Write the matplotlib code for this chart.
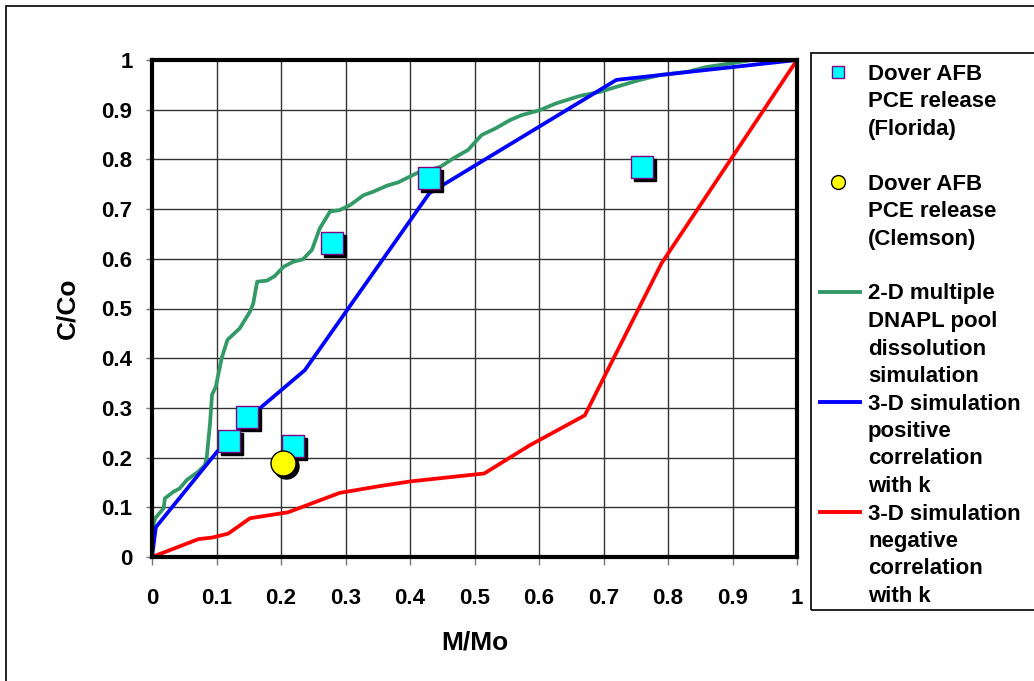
import matplotlib
matplotlib.use('Agg')
import matplotlib.pyplot as plt
import matplotlib.transforms as mtransforms
from matplotlib.lines import Line2D
from matplotlib.patches import Rectangle

plt.rcParams['font.family'] = ['Liberation Sans', 'DejaVu Sans']
plt.rcParams['font.weight'] = 'bold'

# field data
florida_x = [0.119, 0.148, 0.218, 0.279, 0.429, 0.759]
florida_y = [0.233, 0.282, 0.224, 0.631, 0.763, 0.785]
clemson_x = [0.203]
clemson_y = [0.189]

# 2-D multiple pool dissolution simulation
green_x = [0, 0.005, 0.018, 0.02, 0.033, 0.043, 0.054, 0.072, 0.082, 0.085, 0.09, 0.093, 0.099,
           0.108, 0.117, 0.136, 0.152, 0.157, 0.163, 0.178, 0.19, 0.204, 0.219, 0.234, 0.248, 0.26,
           0.276, 0.291, 0.307, 0.328, 0.343, 0.364, 0.382, 0.41, 0.447, 0.467, 0.49, 0.511, 0.532,
           0.555, 0.573, 0.601, 0.627, 0.664, 0.695, 0.72, 0.751, 0.788, 0.829, 0.86, 0.901, 0.93, 1.0]
green_y = [0.054, 0.078, 0.098, 0.118, 0.131, 0.138, 0.155, 0.172, 0.185, 0.202, 0.269, 0.326, 0.343,
           0.40, 0.437, 0.46, 0.494, 0.51, 0.554, 0.556, 0.565, 0.584, 0.594, 0.599, 0.618, 0.661,
           0.695, 0.698, 0.708, 0.728, 0.735, 0.747, 0.754, 0.772, 0.785, 0.802, 0.819, 0.849, 0.862,
           0.879, 0.889, 0.899, 0.913, 0.928, 0.936, 0.946, 0.958, 0.97, 0.976, 0.986, 0.994, 1.0, 1.0]

# 3-D simulation, positive correlation with k
blue_x = [0, 0.006, 0.101, 0.167, 0.237, 0.43, 0.72, 1.0]
blue_y = [0, 0.06, 0.212, 0.299, 0.376, 0.732, 0.96, 1.0]

# 3-D simulation, negative correlation with k
red_x = [0, 0.072, 0.093, 0.118, 0.152, 0.211, 0.291, 0.35, 0.4, 0.45, 0.515, 0.586, 0.671, 0.79, 1.0]
red_y = [0, 0.036, 0.039, 0.047, 0.078, 0.09, 0.129, 0.142, 0.152, 0.159, 0.168, 0.225, 0.285, 0.591, 1.0]

ticks = [0, 0.1, 0.2, 0.3, 0.4, 0.5, 0.6, 0.7, 0.8, 0.9, 1]
tick_labels = ['0', '0.1', '0.2', '0.3', '0.4', '0.5', '0.6', '0.7', '0.8', '0.9', '1']

legend_labels = [
    ['Dover AFB', 'PCE release', '(Florida)'],
    ['Dover AFB', 'PCE release', '(Clemson)'],
    ['2-D multiple', 'DNAPL pool', 'dissolution', 'simulation'],
    ['3-D simulation', 'positive', 'correlation', 'with k'],
    ['3-D simulation', 'negative', 'correlation', 'with k'],
]

W, H = 1034, 681
fig = plt.figure(figsize=(W / 100, H / 100), dpi=100)
ax = fig.add_axes([152 / W, 1 - 557 / H, 645 / W, 497 / H])


def px(x, y):
    # pixel position (from top left) -> figure fraction
    return x / W, 1 - y / H


# lines
ax.plot(green_x, green_y, color='#339966', lw=2.7, zorder=3)
ax.plot(blue_x, blue_y, color='#0000ff', lw=2.7, zorder=3)
ax.plot(red_x, red_y, color='#ff0000', lw=2.7, zorder=3)

# markers with a black drop shadow
shadow = mtransforms.offset_copy(ax.transData, fig=fig, x=3, y=-3, units='dots')
ax.plot(florida_x, florida_y, 's', ms=16.5, color='black', transform=shadow, zorder=4, clip_on=False)
ax.plot(florida_x, florida_y, 's', ms=16.5, mfc='#00ffff', mec='#800080', mew=1.0, zorder=5, clip_on=False)
ax.plot(clemson_x, clemson_y, 'o', ms=18, color='black', transform=shadow, zorder=4, clip_on=False)
ax.plot(clemson_x, clemson_y, 'o', ms=18, mfc='#ffff00', mec='black', mew=1.0, zorder=5, clip_on=False)

ax.set_xlim(0, 1)
ax.set_ylim(0, 1)
ax.set_xticks(ticks)
ax.set_yticks(ticks)
ax.set_xticklabels(tick_labels, fontsize=16, fontweight='bold')
ax.set_yticklabels(tick_labels, fontsize=16, fontweight='bold')
ax.tick_params(axis='x', direction='out', length=6, width=1, color='#777777', pad=16)
ax.tick_params(axis='y', direction='out', length=4, width=1, color='#777777', pad=10)
ax.grid(True, color='#333333', lw=1.0, zorder=1)
ax.set_axisbelow(True)
for s in ax.spines.values():
    s.set_linewidth(3.0)
    s.set_color('black')
    s.set_zorder(6)

ax.set_xlabel('M/Mo', fontsize=19, fontweight='bold')
ax.set_ylabel('C/Co', fontsize=19, fontweight='bold')
ax.xaxis.label.set_va('center')
ax.yaxis.label.set_va('center')
ax.xaxis.set_label_coords(0.5, (557 - 642) / 497)
ax.yaxis.set_label_coords((67.5 - 152) / 645, 0.5)

# outer frame of the chart area
fig.add_artist(Rectangle(px(6, 800), 1.2, (800 - 6) / H, transform=fig.transFigure,
                         fill=False, ec='black', lw=1.2))

# legend box, drawn by hand so the symbols sit at the first line of each entry
lx0, ly0 = px(811, 610)
lx1, ly1 = px(1100, 53)
fig.add_artist(Rectangle((lx0, ly0), lx1 - lx0, ly1 - ly0, transform=fig.transFigure,
                         fill=False, ec='black', lw=1.2))

first_line = [0, 4, 8, 12, 16]
handles = [('s', '#00ffff', '#800080'), ('o', '#ffff00', 'black'),
           ('-', '#339966', None), ('-', '#0000ff', None), ('-', '#ff0000', None)]
for lines, start, (kind, col, edge) in zip(legend_labels, first_line, handles):
    y_mid = 71.5 + start * 27.5
    if kind == '-':
        x0, y0 = px(820, y_mid)
        x1, _ = px(860, y_mid)
        fig.add_artist(Line2D([x0, x1], [y0, y0], transform=fig.transFigure, color=col, lw=2.8))
    else:
        x0, y0 = px(838, y_mid)
        size = 8.6 if kind == 's' else 10
        fig.add_artist(Line2D([x0], [y0], transform=fig.transFigure, marker=kind, ms=size,
                              mfc=col, mec=edge, mew=1.0, ls='none'))
    for i, txt in enumerate(lines):
        tx, ty = px(868, 79.5 + (start + i) * 27.5)
        fig.text(tx, ty, txt, fontsize=16, fontweight='bold', va='baseline', ha='left')

plt.savefig('out.png', dpi=100)
plt.close()
